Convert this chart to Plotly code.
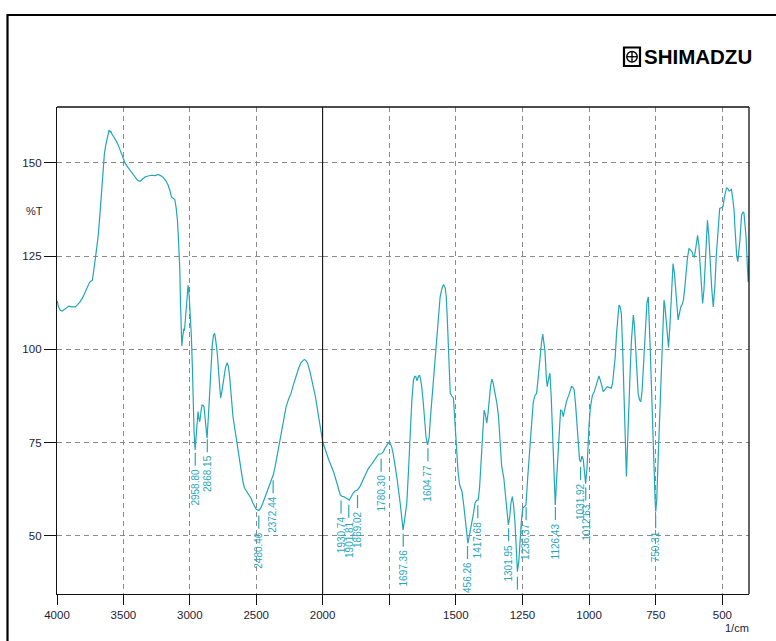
import numpy as np
import plotly.graph_objects as go

# ---------------- data ----------------
wavenumber = [
    3998, 3990, 3975, 3962, 3940, 3913, 3890, 3863, 3845, 3825, 3805, 3788, 3770, 3755, 3733,
    3720, 3713, 3700, 3688, 3675, 3663, 3652, 3643, 3633, 3625, 3615, 3608, 3600, 3595, 3588,
    3575, 3563, 3550, 3538, 3525, 3513, 3500, 3488, 3470, 3450, 3430, 3413, 3395, 3375, 3355,
    3338, 3315, 3288, 3260, 3238, 3220, 3200, 3180, 3163, 3150, 3138, 3125, 3113, 3103, 3093,
    3086, 3080, 3075, 3070, 3065, 3060, 3055, 3050, 3045, 3040, 3030, 3020, 3013, 3005, 3000,
    2993, 2988, 2980, 2975, 2968, 2960, 2950, 2938, 2932, 2925, 2915, 2908, 2900, 2893, 2882,
    2870, 2860, 2850, 2840, 2830, 2820, 2813, 2805, 2793, 2780, 2768, 2757, 2745, 2732, 2720,
    2710, 2700, 2688, 2675, 2660, 2645, 2630, 2613, 2600, 2588, 2570, 2550, 2538, 2525, 2510,
    2500, 2480, 2465, 2450, 2430, 2413, 2395, 2380, 2370, 2355, 2340, 2325, 2300, 2275, 2255,
    2238, 2220, 2200, 2180, 2163, 2150, 2138, 2125, 2113, 2095, 2075, 2055, 2038, 2020, 2000,
    1990, 1977, 1968, 1959, 1946, 1934, 1928, 1921, 1911, 1900, 1893, 1886, 1878, 1869, 1860,
    1852, 1840, 1828, 1818, 1809, 1800, 1790, 1780, 1772, 1766, 1760, 1753, 1747, 1741, 1735,
    1729, 1720, 1709, 1703, 1698, 1692, 1684, 1678, 1671, 1665, 1659, 1654, 1650, 1646, 1644,
    1640, 1636, 1632, 1628, 1622, 1618, 1612, 1606, 1600, 1596, 1586, 1577, 1568, 1559, 1552,
    1546, 1540, 1536, 1532, 1527, 1521, 1515, 1509, 1503, 1499, 1492, 1486, 1477, 1470, 1465,
    1460, 1455, 1448, 1440, 1434, 1428, 1422, 1416, 1411, 1407, 1400, 1394, 1389, 1384, 1379,
    1374, 1370, 1365, 1360, 1353, 1346, 1340, 1335, 1328, 1320, 1315, 1308, 1303, 1298, 1293,
    1288, 1283, 1278, 1273, 1269, 1264, 1260, 1254, 1249, 1243, 1237, 1230, 1225, 1218, 1210,
    1204, 1197, 1191, 1185, 1179, 1174, 1170, 1166, 1160, 1157, 1152, 1147, 1142, 1137, 1132,
    1127, 1122, 1116, 1111, 1107, 1102, 1097, 1091, 1085, 1075, 1066, 1060, 1056, 1051, 1047,
    1042, 1036, 1032, 1027, 1022, 1017, 1013, 1008, 1004, 1000, 995, 988, 980, 970, 963,
    955, 947, 940, 932, 925, 917, 912, 907, 902, 897, 892, 888, 884, 879, 874,
    869, 864, 860, 855, 850, 845, 841, 837, 834, 830, 825, 820, 816, 811, 806,
    801, 796, 792, 788, 783, 778, 774, 771, 766, 762, 759, 756, 752, 750, 746,
    741, 737, 733, 730, 727, 723, 719, 716, 712, 707, 702, 697, 693, 689, 685,
    680, 675, 670, 666, 661, 656, 651, 646, 641, 637, 631, 625, 620, 614, 609,
    605, 599, 593, 588, 584, 579, 574, 569, 565, 560, 556, 551, 547, 540, 534,
    528, 523, 517, 510, 504, 498, 492, 484, 480, 475, 470, 466, 461, 456, 453,
    450, 446, 442, 438, 434, 428, 423, 419, 415, 411, 406, 403, 400,
]
transmittance = [
    113.0, 111.5, 110.5, 110.3, 110.8, 111.6, 111.4, 111.4, 112.0, 112.8, 114.0, 115.4, 116.8, 118.0, 118.6,
    121.5, 123.9, 127.5, 131.1, 137.0, 143.6, 148.5, 152.5, 154.8, 156.1, 158.0, 158.8, 158.2, 158.6, 157.9,
    157.2, 156.5, 155.6, 154.7, 153.6, 152.5, 151.2, 150.0, 149.0, 148.0, 146.9, 146.1, 145.4, 145.1, 145.7,
    146.2, 146.5, 146.7, 146.6, 146.9, 146.6, 146.1, 145.2, 144.0, 142.6, 140.9, 140.5, 140.2, 138.0, 134.6,
    130.0, 125.7, 121.0, 112.4, 105.5, 100.9, 103.0, 105.5, 105.6, 105.0, 110.0, 115.0, 117.2, 114.5, 111.4,
    106.5, 103.4, 94.5, 85.5, 78.0, 73.0, 78.0, 83.3, 81.5, 80.6, 83.5, 85.1, 85.0, 84.6, 80.5,
    76.2, 82.0, 90.0, 96.5, 101.6, 104.0, 104.3, 102.5, 98.9, 92.5, 86.9, 89.0, 91.8, 95.0, 96.4,
    95.5, 92.7, 87.5, 82.0, 78.5, 74.8, 70.7, 66.8, 64.5, 62.8, 61.8, 61.0, 60.0, 58.8, 57.6,
    57.1, 56.8, 57.5, 58.8, 60.6, 62.3, 64.0, 65.5, 66.5, 69.0, 72.0, 74.8, 79.3, 84.6, 86.8,
    88.2, 90.5, 92.9, 95.0, 96.4, 97.0, 97.3, 97.0, 96.3, 94.0, 90.9, 87.5, 83.7, 79.5, 75.3,
    73.0, 70.4, 68.8, 67.2, 64.1, 61.0, 60.6, 60.5, 60.1, 59.6, 60.5, 61.4, 62.0, 62.3, 63.2,
    64.5, 66.3, 68.1, 69.0, 69.9, 70.8, 71.9, 72.0, 72.6, 73.5, 74.2, 75.0, 74.8, 73.9, 72.0,
    69.5, 65.0, 58.8, 54.5, 51.6, 54.5, 58.8, 67.0, 78.4, 86.5, 91.8, 92.8, 92.7, 91.6, 91.8,
    92.9, 93.0, 91.8, 90.0, 85.5, 81.1, 76.5, 74.4, 76.5, 81.1, 90.0, 98.9, 107.0, 114.1, 116.4,
    117.4, 116.5, 114.1, 108.0, 98.9, 88.2, 87.5, 86.9, 80.0, 74.8, 67.5, 63.7, 61.9, 58.0, 54.3,
    50.5, 48.0, 50.5, 53.4, 56.0, 58.8, 59.5, 59.6, 63.0, 67.7, 76.0, 83.7, 82.5, 80.2, 83.0,
    87.3, 90.0, 92.0, 91.0, 88.2, 85.5, 82.0, 76.0, 68.6, 65.5, 62.3, 57.5, 52.9, 55.0, 59.0,
    60.5, 58.0, 53.4, 46.0, 40.4, 43.0, 48.0, 54.0, 57.4, 57.8, 58.3, 66.0, 71.2, 78.0, 85.5,
    87.5, 88.2, 92.5, 98.0, 101.5, 104.1, 102.5, 99.8, 92.0, 90.0, 92.0, 93.6, 87.0, 78.4, 68.0,
    58.3, 65.0, 73.9, 80.0, 83.7, 83.5, 82.0, 84.0, 86.0, 88.0, 90.0, 89.8, 89.1, 85.5, 81.1,
    75.5, 70.5, 69.8, 71.4, 70.5, 67.0, 64.0, 68.0, 75.0, 80.0, 84.5, 87.5, 88.8, 91.5, 92.9,
    91.0, 88.7, 89.3, 90.0, 89.8, 89.6, 90.8, 93.6, 98.0, 104.3, 109.5, 111.9, 111.5, 109.6, 100.0,
    88.2, 76.0, 65.9, 76.0, 88.2, 96.0, 102.5, 107.5, 109.2, 106.5, 100.7, 94.0, 88.2, 86.5, 86.0,
    89.0, 95.4, 102.0, 108.7, 112.5, 114.1, 108.0, 100.7, 90.0, 79.3, 72.0, 65.0, 59.0, 56.5, 60.0,
    70.4, 79.0, 88.2, 95.0, 100.7, 107.0, 113.2, 112.0, 108.7, 103.0, 100.5, 106.0, 112.3, 118.0, 123.0,
    120.5, 116.8, 111.5, 107.9, 109.5, 111.4, 112.0, 113.2, 116.5, 120.4, 124.5, 127.1, 126.8, 126.2, 125.0,
    124.8, 127.5, 130.6, 128.0, 123.9, 117.5, 112.3, 116.0, 121.3, 128.5, 134.6, 130.5, 124.8, 116.5, 111.4,
    117.0, 124.8, 132.0, 137.8, 138.0, 138.2, 140.9, 143.3, 143.2, 142.5, 142.7, 142.9, 140.5, 137.3, 133.0,
    128.4, 125.0, 123.5, 126.0, 129.3, 136.0, 136.8, 136.6, 134.0, 130.2, 122.0, 118.1, 124.8,
]

peak_wn = [2958.80, 2868.15, 2480.46, 2372.44, 1930.74, 1901.81, 1869.02, 1780.30, 1697.36,
           1604.77, 1456.26, 1417.68, 1301.95, 1269.00, 1236.37, 1126.43, 1031.92, 1012.63, 750.31]

y_ticks = [50, 75, 100, 125, 150]
x_ticks_hi = [4000, 3500, 3000, 2500, 2000]
x_ticks_lo = [1750, 1500, 1250, 1000, 750, 500]
x_tick_text_lo = ["", "1500", "1250", "1000", "750", "500"]

# ---------------- layout geometry ----------------
W, H = 776, 641
ML, MR, MT, MB = 57, 27, 107, 47
PW, PH = W - ML - MR, H - MT - MB
Y_RANGE = [34.4, 165.0]
PXU = PH / (Y_RANGE[1] - Y_RANGE[0])  # pixels per %T unit
SPLIT = (2000 * 0.1328) / PW            # domain of the 4000-2000 part

def px_x(px):
    return (px - ML) / PW

def px_y(py):
    return (H - MB - py) / PH

LINE = "#22a6b8"
LABEL = "#2aa6bc"
TICKFONT = dict(family="Arial, Liberation Sans, sans-serif", size=11.5, color="#1c1c34")

wn = np.array(wavenumber, dtype=float)
tr = np.array(transmittance, dtype=float)
hi = wn >= 2000
lo = wn <= 2000

fig = go.Figure()
fig.add_trace(go.Scatter(x=wn[hi], y=tr[hi], mode="lines", xaxis="x", yaxis="y",
                         line=dict(color=LINE, width=1.2), showlegend=False, hoverinfo="skip"))
fig.add_trace(go.Scatter(x=wn[lo], y=tr[lo], mode="lines", xaxis="x2", yaxis="y",
                         line=dict(color=LINE, width=1.2), showlegend=False, hoverinfo="skip"))

grid = dict(showgrid=True, gridcolor="#8a8a8a", gridwidth=1, griddash="5px,4px")
axis_common = dict(showline=True, linecolor="#111", linewidth=1.3, ticks="outside",
                   ticklen=10, tickcolor="#111", tickwidth=1.2, tickfont=TICKFONT,
                   zeroline=False, **grid)

shapes = []
annotations = []

# peak markers and labels
asc_w = wn[::-1]
asc_t = tr[::-1]
char_w = {".": 0.278}
LBL_SIZE = 10
for p in peak_wn:
    t = float(np.interp(p, asc_w, asc_t))
    xr = "x" if p >= 2000 else "x2"
    y0 = t - 5 / PXU
    y1 = t - 18 / PXU
    shapes.append(dict(type="line", xref=xr, yref="y", x0=p, x1=p, y0=y0,
                       y1=max(y1, Y_RANGE[0]), line=dict(color=LABEL, width=1.2)))
    txt_top = t - 19 / PXU
    avail = (txt_top - Y_RANGE[0]) * PXU - 2
    label = f"{p:.2f}"
    while label and sum(char_w.get(c, 0.556) for c in label) * LBL_SIZE > avail:
        label = label[1:]
    if label:
        annotations.append(dict(x=p, y=txt_top, xref=xr, yref="y", text=label, textangle=-90,
                                xanchor="center", yanchor="top", showarrow=False,
                                font=dict(family="Arial, Liberation Sans, sans-serif",
                                          size=LBL_SIZE, color=LABEL)))

# plot box (top/right) and scale-change line
shapes.append(dict(type="line", xref="paper", yref="paper", x0=0, x1=1, y0=1, y1=1,
                   line=dict(color="#111", width=1.3)))
shapes.append(dict(type="line", xref="paper", yref="paper", x0=1, x1=1, y0=0, y1=1,
                   line=dict(color="#111", width=1.3)))
shapes.append(dict(type="line", xref="paper", yref="paper", x0=SPLIT, x1=SPLIT, y0=0, y1=1,
                   line=dict(color="#111", width=1.1)))
# outer page frame
shapes.append(dict(type="rect", xref="paper", yref="paper", x0=px_x(7.5), x1=px_x(800),
                   y0=px_y(700), y1=px_y(15), line=dict(color="#000", width=2.2)))
# logo symbol
shapes.append(dict(type="rect", xref="paper", yref="paper", x0=px_x(624), x1=px_x(640),
                   y0=px_y(66), y1=px_y(47.5), line=dict(color="#000", width=2.2)))
shapes.append(dict(type="circle", xref="paper", yref="paper", x0=px_x(626.8), x1=px_x(637.2),
                   y0=px_y(62), y1=px_y(51.5), line=dict(color="#000", width=1.4)))
shapes.append(dict(type="line", xref="paper", yref="paper", x0=px_x(632), x1=px_x(632),
                   y0=px_y(62), y1=px_y(51.5), line=dict(color="#000", width=1.3)))
shapes.append(dict(type="line", xref="paper", yref="paper", x0=px_x(626.8), x1=px_x(637.2),
                   y0=px_y(56.7), y1=px_y(56.7), line=dict(color="#000", width=1.3)))

annotations.append(dict(x=px_x(642), y=px_y(57), xref="paper", yref="paper", text="<b>SHIMADZU</b>",
                        xanchor="left", yanchor="middle", showarrow=False,
                        font=dict(family="Arial, Liberation Sans, sans-serif", size=20.5, color="#000")))
annotations.append(dict(x=px_x(34), y=px_y(211), xref="paper", yref="paper", text="%T",
                        xanchor="center", yanchor="middle", showarrow=False,
                        font=dict(family="Arial, Liberation Sans, sans-serif", size=11, color="#1c1c34")))
annotations.append(dict(x=px_x(736.5), y=px_y(628), xref="paper", yref="paper", text="1/cm",
                        xanchor="center", yanchor="middle", showarrow=False,
                        font=dict(family="Arial, Liberation Sans, sans-serif", size=11, color="#1c1c34")))

fig.update_layout(
    width=W, height=H,
    margin=dict(l=ML, r=MR, t=MT, b=MB, pad=0),
    paper_bgcolor="white", plot_bgcolor="white",
    xaxis=dict(domain=[0, SPLIT], range=[4000, 2000], tickmode="array", tickvals=x_ticks_hi,
               ticktext=[str(v) for v in x_ticks_hi], anchor="y", **axis_common),
    xaxis2=dict(domain=[SPLIT, 1], range=[2000, 400], tickmode="array", tickvals=x_ticks_lo,
                ticktext=x_tick_text_lo, anchor="y", **axis_common),
    yaxis=dict(range=Y_RANGE, tickmode="array", tickvals=y_ticks, anchor="x",
               **{**axis_common, "ticklen": 12}),
    shapes=shapes,
    annotations=annotations,
)

fig.write_html("out.html")
